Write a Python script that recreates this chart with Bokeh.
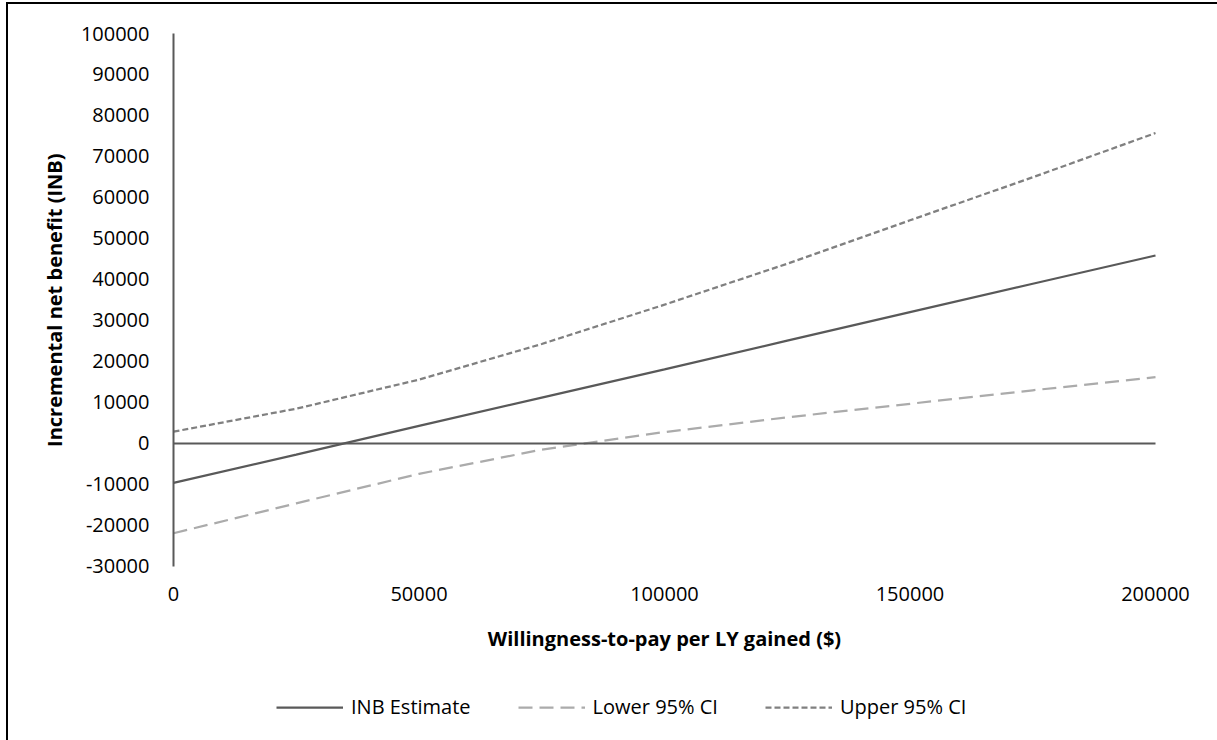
from bokeh.plotting import figure
from bokeh.models import (Range1d, FixedTicker, NumeralTickFormatter, LinearAxis,
                          Legend, LegendItem, Title, Label)
from bokeh.embed import file_html
from bokeh.resources import INLINE

# Willingness-to-pay per life-year gained ($) and the INB curves
wtp = [0, 25000, 50000, 75000, 100000, 125000, 150000, 175000, 200000]
inb_estimate = [-9700, -2800, 4200, 11100, 18000, 25000, 32000, 38900, 45800]
lower_ci = [-22000, -14700, -7500, -1600, 2700, 6300, 9600, 12900, 16100]
upper_ci = [2800, 8400, 15500, 24200, 33800, 43800, 54400, 64900, 75700]

series_names = ["INB Estimate", "Lower 95% CI", "Upper 95% CI"]
x_title = "Willingness-to-pay per LY gained ($)"
y_title = "Incremental net benefit (INB)"
x_ticks = [0, 50000, 100000, 150000, 200000]
y_ticks = [-30000, -20000, -10000, 0, 10000, 20000, 30000, 40000, 50000,
           60000, 70000, 80000, 90000, 100000]

FONT = "Open Sans"
FS = "20px"
DARK = "#595959"

# page geometry (pixels)
BL, BT = 8, 4                     # chart border thickness + offset (left, top)
W, H = 1217 - BL, 740 - BT        # canvas size
LEFT, TOP = 64, 10 - BT           # canvas margin left of / above the frame
AX_L, AX_R = 173 - BL, 1155 - BL  # canvas x of the axis ends
AX_T, AX_B = 33 - BT, 565.5 - BT  # canvas y of the highest / lowest value
X_TITLE_Y = 638 - BT              # canvas y of the horizontal axis title
FRAME_W, FRAME_H = W - LEFT, H - TOP

x_per_px = (x_ticks[-1] - x_ticks[0]) / (AX_R - AX_L)
x_start = x_ticks[0] - (AX_L - LEFT) * x_per_px
x_end = x_ticks[-1] + (W - AX_R) * x_per_px
y_per_px = (y_ticks[-1] - y_ticks[0]) / (AX_B - AX_T)
y_end = y_ticks[-1] + (AX_T - TOP) * y_per_px
y_start = y_end - FRAME_H * y_per_px

p = figure(width=W, height=H, output_backend="svg", toolbar_location=None,
           x_range=Range1d(x_start, x_end),
           y_range=Range1d(y_start, y_end),
           frame_width=FRAME_W, frame_height=FRAME_H,
           min_border_left=LEFT, min_border_right=0,
           min_border_top=TOP, min_border_bottom=0,
           styles={"border-left": "2px solid black",
                   "border-top": "2px solid black",
                   "margin-left": "6px", "margin-top": "2px"})
p.outline_line_color = None
p.grid.visible = False
p.background_fill_color = "white"
p.border_fill_color = "white"

r_est = p.line(wtp, inb_estimate, line_color=DARK, line_width=2.25)
r_low = p.line(wtp, lower_ci, line_color="#ABABAB", line_width=2.25, line_dash="14 7")
r_up = p.line(wtp, upper_ci, line_color="#808080", line_width=2.25, line_dash="6 3")

# value axis, drawn at WTP = 0
ya = p.yaxis[0]
ya.fixed_location = x_ticks[0]
ya.ticker = FixedTicker(ticks=y_ticks)
ya.bounds = (y_ticks[0], y_ticks[-1])
ya.formatter = NumeralTickFormatter(format="0")
ya.axis_line_color = DARK
ya.axis_line_width = 2
ya.major_tick_line_color = None
ya.minor_tick_line_color = None
ya.major_tick_out = 0
ya.major_tick_in = 0
ya.major_label_standoff = 24
ya.major_label_text_font = FONT
ya.major_label_text_font_size = FS
ya.major_label_text_color = "#000000"

p.add_layout(Title(text=y_title, align="right", offset=120 + (AX_T - TOP),
                   text_font=FONT, text_font_size=FS,
                   text_font_style="bold", text_color="#000000"), "left")

# horizontal axis line crossing at INB = 0
zero_axis = LinearAxis(fixed_location=0, bounds=(x_ticks[0], x_ticks[-1]),
                       ticker=FixedTicker(ticks=[]),
                       axis_line_color=DARK, axis_line_width=2,
                       major_tick_line_color=None, minor_tick_line_color=None,
                       major_label_text_alpha=0)
p.add_layout(zero_axis, "below")

# willingness-to-pay labels under the lowest value
xa = p.xaxis[0]
xa.fixed_location = y_ticks[0]
xa.ticker = FixedTicker(ticks=x_ticks)
xa.formatter = NumeralTickFormatter(format="0")
xa.axis_line_color = None
xa.major_tick_line_color = None
xa.minor_tick_line_color = None
xa.major_tick_out = 0
xa.major_tick_in = 0
xa.major_label_standoff = 21
xa.major_label_text_font = FONT
xa.major_label_text_font_size = FS
xa.major_label_text_color = "#000000"

# horizontal axis title, centred under the axis span
p.add_layout(Label(x=(x_ticks[0] + x_ticks[-1]) / 2,
                   y=y_end - (X_TITLE_Y - TOP) * y_per_px,
                   text=x_title, text_align="center", text_baseline="middle",
                   text_font=FONT, text_font_size=FS, text_font_style="bold",
                   text_color="#000000"))

legend = Legend(items=[LegendItem(label=series_names[0], renderers=[r_est]),
                       LegendItem(label=series_names[1], renderers=[r_low]),
                       LegendItem(label=series_names[2], renderers=[r_up])],
                orientation="horizontal", location=(103 + AX_L - LEFT, 20),
                glyph_width=67, glyph_height=20, label_standoff=8, spacing=47,
                padding=0, margin=0, border_line_color=None,
                background_fill_alpha=0,
                label_text_font=FONT, label_text_font_size=FS,
                label_text_color="#000000")
p.add_layout(legend, "center")

open("out.html", "w").write(file_html(p, INLINE))
